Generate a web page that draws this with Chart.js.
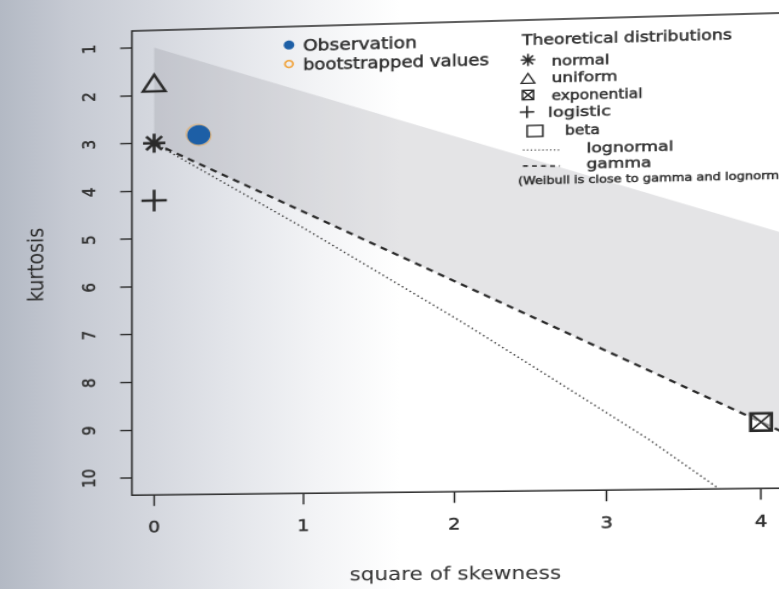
<!DOCTYPE html>
<html lang="en">
<head>
  <meta charset="UTF-8">
  <title>Cullen and Frey graph</title>
  <script src="https://cdn.jsdelivr.net/npm/chart.js"></script>
  <style>
    html, body { margin: 0; padding: 0; width: 779px; height: 589px; overflow: hidden; }
    body {
      background: linear-gradient(90deg, #b3b9c4 0px, #c6cad3 70px, #d4d7de 150px, #e3e5ea 230px, #f3f4f6 320px, #ffffff 400px);
    }
    /* the reference is a scan: stretched sideways and seen a little in perspective */
    #wrap { position: absolute; left: 0; top: 0;
            transform-origin: 0 0;
            transform: matrix3d(0.96742, -0.0281, 0, -0.00003565, 0, 0.99533, 0, 0, 0, 0, 1, 0, 4.173, 3.681, 0, 1) scaleX(1.2); }
    #cf { display: block; }
  </style>
</head>
<body>
  <div id="wrap"><canvas id="cf" width="660" height="600"></canvas></div>

  <script>
    // values
    const xTicks = [0, 1, 2, 3, 4];
    const yTicks = [1, 2, 3, 4, 5, 6, 7, 8, 9, 10];

    const betaTopX = [0, 4.2];
    const betaTopY = [1, 5.2];
    const gammaX = [0, 4.2];
    const gammaY = [3, 9.3];
    const lognormX = [0, 0.96, 2.05, 2.64, 3.27, 3.73];
    const lognormY = [3, 4.76, 6.85, 8.04, 9.32, 10.36];

    const normalPt = [0, 3];
    const uniformPt = [0, 1.8];
    const logisticPt = [0, 4.2];
    const exponentialPt = [4, 9];
    const observationPt = [0.30, 2.85];
    const bootX = [0.292, 0.305];
    const bootY = [2.83, 2.87];

    const pts = (xs, ys) => xs.map((x, i) => ({x: x, y: ys[i]}));
    const pt = p => [{x: p[0], y: p[1]}];

    const INK = '#2a2a2a';
    const TXT = '#333333';
    const FONT = '"DejaVu Sans", "Liberation Sans", sans-serif';
    const AREA_RIGHT = 653.5;

    // screen position -> canvas position (inverse of the wrapper transform)
    const H = {a: 0.96742, c: 4.173, d: -0.0281, e: 0.99533, f: 3.681, g: -0.00003565, sx: 1.2};
    function S(X, Y) {
      const u = (X - H.c) / (H.a - H.g * X);
      const v = (Y * (1 + H.g * u) - H.d * u - H.f) / H.e;
      return {x: u / H.sx, y: v};
    }

    function fitText(ctx, str, sx, sy, sw, size, fitPart) {
      const p = S(sx, sy), p2 = S(sx + sw, sy);
      ctx.save();
      ctx.font = size + 'px ' + FONT;
      ctx.fillStyle = TXT;
      ctx.strokeStyle = TXT;
      ctx.lineWidth = 0.5;
      ctx.textAlign = 'left';
      ctx.textBaseline = 'alphabetic';
      const w = ctx.measureText(fitPart || str).width;
      ctx.translate(p.x, p.y);
      ctx.scale((p2.x - p.x) / w, 1);
      ctx.fillText(str, 0, 0);
      ctx.strokeText(str, 0, 0);
      ctx.restore();
    }

    function mark(ctx, style, sx, sy, r, lw) {
      const p = S(sx, sy), x = p.x, y = p.y, d = r * Math.SQRT1_2;
      ctx.save();
      ctx.lineWidth = lw;
      ctx.strokeStyle = INK;
      ctx.beginPath();
      if (style === 'cross' || style === 'star') {
        ctx.moveTo(x - r, y); ctx.lineTo(x + r, y);
        ctx.moveTo(x, y - r); ctx.lineTo(x, y + r);
      }
      if (style === 'star' || style === 'boxX') {
        ctx.moveTo(x - d, y - d); ctx.lineTo(x + d, y + d);
        ctx.moveTo(x - d, y + d); ctx.lineTo(x + d, y - d);
      }
      if (style === 'boxX') ctx.rect(x - d, y - d, 2 * d, 2 * d);
      if (style === 'triangle') {
        ctx.moveTo(x, y - r); ctx.lineTo(x + r * 0.866, y + r / 2);
        ctx.lineTo(x - r * 0.866, y + r / 2); ctx.closePath();
      }
      ctx.stroke();
      ctx.restore();
    }

    // frame, rotated y tick labels and the two legends
    const decor = {
      id: 'decor',
      afterDraw(chart) {
        const ctx = chart.ctx, a = chart.chartArea, ys = chart.scales.y;

        ctx.save();
        ctx.strokeStyle = INK;
        ctx.lineWidth = 1.5;
        ctx.strokeRect(a.left, a.top, a.right - a.left, a.bottom - a.top);

        ctx.fillStyle = TXT;
        ctx.strokeStyle = TXT;
        ctx.lineWidth = 0.5;
        ctx.font = '15px ' + FONT;
        ctx.textAlign = 'center';
        ctx.textBaseline = 'middle';
        yTicks.forEach(v => {
          ctx.save();
          ctx.translate(74, ys.getPixelForValue(v));
          ctx.rotate(-Math.PI / 2);
          ctx.fillText(String(v), 0, 0);
          ctx.strokeText(String(v), 0, 0);
          ctx.restore();
        });
        ctx.restore();

        // left legend
        let p = S(289, 45);
        ctx.save();
        ctx.fillStyle = '#1d5fa6';
        ctx.beginPath(); ctx.arc(p.x, p.y, 4.5, 0, Math.PI * 2); ctx.fill();
        p = S(289, 64);
        ctx.strokeStyle = '#f0a23a';
        ctx.lineWidth = 1.6;
        ctx.beginPath(); ctx.arc(p.x, p.y, 3.4, 0, Math.PI * 2); ctx.stroke();
        ctx.restore();
        fitText(ctx, 'Observation', 303, 51, 114, 16);
        fitText(ctx, 'bootstrapped values', 303, 70, 186, 16);

        // right legend
        fitText(ctx, 'Theoretical distributions', 522, 45, 210, 14.5);
        mark(ctx, 'star', 528, 60, 6, 1.5);
        fitText(ctx, 'normal', 551.5, 65.5, 58, 13.5);
        mark(ctx, 'triangle', 528, 80, 6.5, 1.3);
        fitText(ctx, 'uniform', 551.5, 82.5, 66, 13.5);
        mark(ctx, 'boxX', 528, 95, 6.5, 1.4);
        fitText(ctx, 'exponential', 551.5, 100, 91, 13.5);
        mark(ctx, 'cross', 527, 112, 6, 1.6);
        fitText(ctx, 'logistic', 548, 117, 63, 13.5);

        p = S(535, 131);
        ctx.save();
        ctx.strokeStyle = INK;
        ctx.lineWidth = 1.4;
        ctx.strokeRect(p.x - 6.5, p.y - 5.5, 13, 11);
        ctx.restore();
        fitText(ctx, 'beta', 565, 135, 35, 13.5);

        ctx.save();
        ctx.strokeStyle = INK;
        ctx.lineWidth = 1;
        ctx.setLineDash([1.2, 2]);
        let q1 = S(523, 150), q2 = S(560, 150);
        ctx.beginPath(); ctx.moveTo(q1.x, q1.y); ctx.lineTo(q2.x, q2.y); ctx.stroke();
        ctx.lineWidth = 1.6;
        ctx.setLineDash([4, 3.5]);
        q1 = S(523, 166); q2 = S(560, 166);
        ctx.beginPath(); ctx.moveTo(q1.x, q1.y); ctx.lineTo(q2.x, q2.y); ctx.stroke();
        ctx.restore();
        fitText(ctx, 'lognormal', 586.5, 152.5, 87, 13.5);
        fitText(ctx, 'gamma', 586.5, 168.5, 65, 13.5);

        fitText(ctx, '(Weibull is close to gamma and lognormal)', 518, 184.5, 261, 10.5,
                '(Weibull is close to gamma and lognorm');
      }
    };

    const chart = new Chart(document.getElementById('cf'), {
      type: 'scatter',
      data: {
        datasets: [
          { label: 'beta', data: pts(betaTopX, betaTopY), showLine: true, borderWidth: 0,
            pointRadius: 0, fill: '+1', backgroundColor: 'rgba(118,122,130,0.2)', order: 9 },
          { label: 'gamma', data: pts(gammaX, gammaY), showLine: true, borderColor: INK,
            borderWidth: 2.2, borderDash: [6, 5], pointRadius: 0, fill: false, order: 5 },
          { label: 'lognormal', data: pts(lognormX, lognormY), showLine: true, borderColor: '#3a3a3a',
            borderWidth: 1.4, borderDash: [1.4, 2.6], pointRadius: 0, fill: false, order: 6 },
          { label: 'normal', data: pt(normalPt), pointStyle: 'star', pointRadius: 9.5,
            borderColor: INK, borderWidth: 2.6, order: 3 },
          { label: 'uniform', data: pt(uniformPt), pointStyle: 'triangle', pointRadius: 11,
            borderColor: INK, backgroundColor: 'rgba(0,0,0,0)', borderWidth: 2.4, order: 3 },
          { label: 'logistic', data: pt(logisticPt), pointStyle: 'cross', pointRadius: 10.8,
            borderColor: INK, borderWidth: 2.5, order: 3 },
          { label: 'exponential', data: pt(exponentialPt), pointStyle: 'rect', pointRadius: 12,
            borderColor: INK, backgroundColor: 'rgba(255,255,255,0.5)', borderWidth: 2.6, order: 3 },
          { label: 'exponential x', data: pt(exponentialPt), pointStyle: 'crossRot', pointRadius: 12,
            borderColor: INK, borderWidth: 1.6, order: 2 },
          { label: 'bootstrapped values', data: pts(bootX, bootY), pointStyle: 'circle', pointRadius: 9.6,
            borderColor: 'rgba(240,162,58,0.6)', backgroundColor: 'rgba(0,0,0,0)', borderWidth: 1.1, order: 1 },
          { label: 'Observation', data: pt(observationPt), pointStyle: 'circle', pointRadius: 9.8,
            borderColor: '#1d5fa6', backgroundColor: '#1d5fa6', borderWidth: 0, order: 0 }
        ]
      },
      options: {
        responsive: false,
        maintainAspectRatio: false,
        animation: false,
        devicePixelRatio: 2,
        events: [],
        layout: { padding: { left: 0, right: 6.5, top: 31, bottom: 0 } },
        plugins: { legend: { display: false }, tooltip: { enabled: false } },
        scales: {
          x: {
            type: 'linear', min: -0.15, max: 4.16,
            afterBuildTicks: s => { s.ticks = xTicks.map(v => ({value: v})); },
            afterFit: s => { s.height = 104.8; },
            border: { display: false },
            grid: { drawOnChartArea: false, drawTicks: true, tickLength: 11, tickColor: INK, tickWidth: 1.4 },
            ticks: { color: TXT, font: {family: FONT, size: 16, lineHeight: 2.75}, padding: 0,
                     maxRotation: 0, autoSkip: false, textStrokeColor: TXT, textStrokeWidth: 0.5 },
            title: { display: true, text: 'square of skewness', color: '#2e2e2e',
                     font: {family: FONT, size: 18}, padding: {top: 0, bottom: 11.7} }
          },
          y: {
            type: 'linear', reverse: true, min: 0.64, max: 10.36,
            afterBuildTicks: s => { s.ticks = yTicks.map(v => ({value: v})); },
            afterFit: s => { s.width = 109.5; },
            border: { display: false },
            grid: { drawOnChartArea: false, drawTicks: true, tickLength: 10, tickColor: INK, tickWidth: 1.4 },
            ticks: { display: false },
            title: { display: true, text: 'kurtosis', color: '#2e2e2e',
                     font: {family: FONT, size: 19}, padding: {top: 17, bottom: 0} }
          }
        }
      },
      plugins: [decor]
    });

    // the layout leaves a little more room on the right than asked; widen the canvas to compensate
    const gap = AREA_RIGHT - chart.chartArea.right;
    if (Math.abs(gap) > 0.05) chart.resize(Math.ceil(chart.width + gap), 600);
  </script>
</body>
</html>
